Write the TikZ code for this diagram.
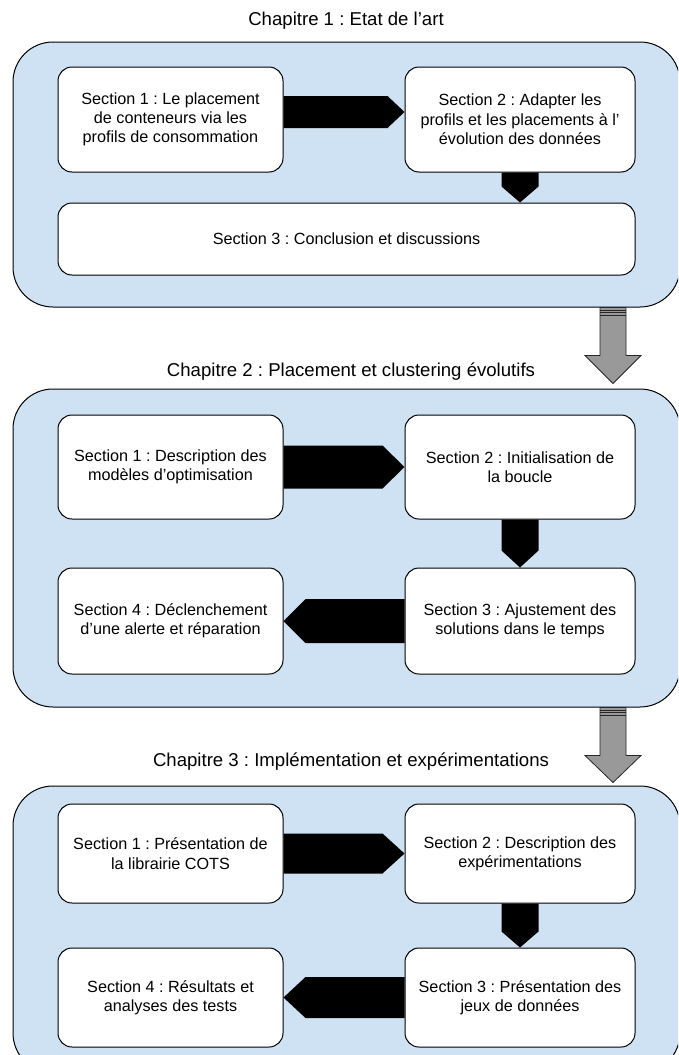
\documentclass[tikz,border=0pt]{standalone}
\usepackage{fontspec}
\setmainfont{Liberation Sans}
\frenchspacing

\definecolor{bleuchap}{HTML}{CFE2F3}
\definecolor{grisfleche}{HTML}{999999}

\begin{document}
\begin{tikzpicture}[x=1pt,y=-1pt]
\tikzset{chapitre/.style={draw, line width=1pt, fill=bleuchap, rounded corners=40pt, inner sep=0pt}}
\tikzset{section/.style={draw, line width=1pt, fill=white, rounded corners=14pt, inner sep=0pt, align=center, font=\fontsize{16.2}{19.3}\selectfont}}
\tikzset{titre/.style={font=\fontsize{18.6}{21}\selectfont}}
\tikzset{fleche/.style={fill=black}}
\tikzset{flechegrise/.style={fill=grisfleche, draw=black!85, line width=0.8pt}}
\useasboundingbox (0,0) rectangle (678,1055);
\clip (0,0) rectangle (678,1055);
\node[chapitre, minimum width=667pt, minimum height=265pt] (c1) at (346.5,174.5) {};
\node[chapitre, minimum width=667pt, minimum height=318pt] (c2) at (346.5,548) {};
\node[chapitre, minimum width=667pt, minimum height=287pt] (c3) at (346.5,929.5) {};
\node[titre] (t1) at (346,21) {Chapitre 1 : Etat de l’art};
\node[titre] (t2) at (351,372) {Chapitre 2 : Placement et clustering évolutifs};
\node[titre] (t3) at (351,762) {Chapitre 3 : Implémentation et expérimentations};
\node[section, minimum width=225pt, minimum height=105pt] (c1s1) at (170.5,119.5) {Section 1 : Le placement\\de conteneurs via les\\profils de consommation};
\node[section, minimum width=230pt, minimum height=105pt] (c1s2) at (520,119.5) {Section 2 : Adapter les\\profils et les placements à l’\\évolution des données};
\node[section, minimum width=577pt, minimum height=72pt] (c1s3) at (346.5,239) {Section 3 : Conclusion et discussions};
\node[section, minimum width=225pt, minimum height=104pt] (c2s1) at (170.5,467) {Section 1 : Description des\\modèles d’optimisation};
\node[section, minimum width=230pt, minimum height=104pt] (c2s2) at (520,467) {Section 2 : Initialisation de\\la boucle};
\node[section, minimum width=230pt, minimum height=106pt] (c2s3) at (520,621) {Section 3 : Ajustement des\\solutions dans le temps};
\node[section, minimum width=225pt, minimum height=106pt] (c2s4) at (170.5,621) {Section 4 : Déclenchement\\d’une alerte et réparation};
\node[section, minimum width=225pt, minimum height=99pt] (c3s1) at (170.5,853.5) {Section 1 : Présentation de\\la librairie COTS};
\node[section, minimum width=230pt, minimum height=99pt] (c3s2) at (520,853.5) {Section 2 : Description des\\expérimentations};
\node[section, minimum width=230pt, minimum height=99pt] (c3s3) at (520,997.5) {Section 3 : Présentation des\\jeux de données};
\node[section, minimum width=225pt, minimum height=99pt] (c3s4) at (170.5,997.5) {Section 4 : Résultats et\\analyses des tests};
\coordinate (p1) at (c1s2.south |- c1s3.north);
\fill[fleche] ([yshift=23.5pt]c1s1.east) -- ([xshift=-17pt,yshift=23.5pt]c1s2.west) -- ([yshift=7.5pt]c1s2.west) -- ([xshift=-17pt,yshift=-8.5pt]c1s2.west) -- ([yshift=-8.5pt]c1s1.east) -- cycle;
\fill[fleche] ([xshift=-18.5pt]c1s2.south) -- ([xshift=18.5pt]c1s2.south) -- ([xshift=18.5pt,yshift=16pt]p1) -- (p1) -- ([xshift=-18.5pt,yshift=16pt]p1) -- cycle;
\fill[fleche] ([yshift=21.5pt]c2s1.east) -- ([xshift=-22pt,yshift=21.5pt]c2s2.west) -- (c2s2.west) -- ([xshift=-22pt,yshift=-21.5pt]c2s2.west) -- ([yshift=-21.5pt]c2s1.east) -- cycle;
\fill[fleche] ([xshift=-18.5pt]c2s2.south) -- ([xshift=18.5pt]c2s2.south) -- ([xshift=18.5pt,yshift=17pt]c2s3.north) -- (c2s3.north) -- ([xshift=-18.5pt,yshift=17pt]c2s3.north) -- cycle;
\fill[fleche] ([yshift=22pt]c2s3.west) -- ([xshift=22pt,yshift=22pt]c2s4.east) -- (c2s4.east) -- ([xshift=22pt,yshift=-22pt]c2s4.east) -- ([yshift=-22pt]c2s3.west) -- cycle;
\fill[fleche] ([yshift=20pt]c3s1.east) -- ([xshift=-22pt,yshift=20pt]c3s2.west) -- (c3s2.west) -- ([xshift=-22pt,yshift=-20pt]c3s2.west) -- ([yshift=-20pt]c3s1.east) -- cycle;
\fill[fleche] ([xshift=-18.5pt]c3s2.south) -- ([xshift=18.5pt]c3s2.south) -- ([xshift=18.5pt,yshift=16pt]c3s3.north) -- (c3s3.north) -- ([xshift=-18.5pt,yshift=16pt]c3s3.north) -- cycle;
\fill[fleche] ([yshift=20.5pt]c3s3.west) -- ([xshift=22pt,yshift=20.5pt]c3s4.east) -- (c3s4.east) -- ([xshift=22pt,yshift=-20.5pt]c3s4.east) -- ([yshift=-20.5pt]c3s3.west) -- cycle;
\filldraw[flechegrise] ([xshift=253.5pt]c1.south) -- ([xshift=279.5pt]c1.south) -- ([xshift=279.5pt,yshift=33pt]c2.north) -- ([xshift=294.5pt,yshift=33pt]c2.north) -- ([xshift=266.5pt,yshift=5pt]c2.north) -- ([xshift=238.5pt,yshift=33pt]c2.north) -- ([xshift=253.5pt,yshift=33pt]c2.north) -- cycle;
\draw[flechegrise] ([xshift=253.5pt,yshift=-2.5pt]c1.south) -- ([xshift=279.5pt,yshift=-2.5pt]c1.south);
\draw[flechegrise] ([xshift=253.5pt,yshift=-5pt]c1.south) -- ([xshift=279.5pt,yshift=-5pt]c1.south);
\draw[flechegrise] ([xshift=253.5pt,yshift=-8pt]c1.south) -- ([xshift=279.5pt,yshift=-8pt]c1.south);
\filldraw[flechegrise] ([xshift=253.5pt]c2.south) -- ([xshift=279.5pt]c2.south) -- ([xshift=279.5pt,yshift=30pt]c3.north) -- ([xshift=294.5pt,yshift=30pt]c3.north) -- ([xshift=266.5pt,yshift=3pt]c3.north) -- ([xshift=238.5pt,yshift=30pt]c3.north) -- ([xshift=253.5pt,yshift=30pt]c3.north) -- cycle;
\draw[flechegrise] ([xshift=253.5pt,yshift=-2.5pt]c2.south) -- ([xshift=279.5pt,yshift=-2.5pt]c2.south);
\draw[flechegrise] ([xshift=253.5pt,yshift=-5pt]c2.south) -- ([xshift=279.5pt,yshift=-5pt]c2.south);
\draw[flechegrise] ([xshift=253.5pt,yshift=-8pt]c2.south) -- ([xshift=279.5pt,yshift=-8pt]c2.south);
\end{tikzpicture}
\end{document}
